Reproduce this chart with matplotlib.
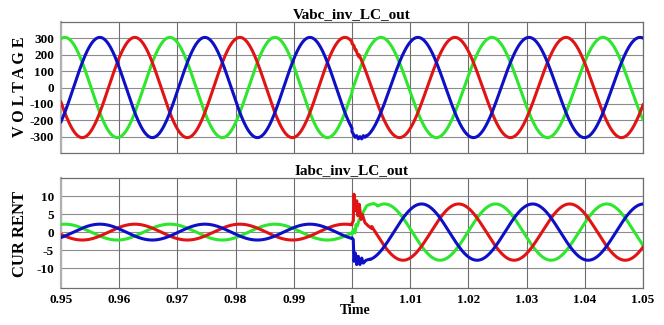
import numpy as np
import matplotlib
matplotlib.use("Agg")
import matplotlib.pyplot as plt

plt.rcParams["font.family"] = ["Liberation Serif", "DejaVu Serif"]
plt.rcParams["font.weight"] = "bold"

# window and step instant
t_start, t_end, t_step = 0.95, 1.05, 1.0

# sine parameters per segment: frequency [Hz], amplitude, time of phase-a (green) peak
f_pre, f_post = 55.4, 52.4
v_amp = 306.0
v_peak_pre, v_peak_post = 0.95065, 1.04313
i_amp_pre, i_amp_post = 2.2, 7.8
i_peak_pre, i_peak_post = 0.95065, 1.04376

# sampled transient right after the step (time [s], value)
v_red_tr_t = [1.00000, 1.00017, 1.00034, 1.00046, 1.00057, 1.00069, 1.00086, 1.00103, 1.00120]
v_red_tr = [268, 262, 255, 238, 228, 230, 210, 198, 186]
v_blue_tr_t = [1.00000, 1.00022, 1.00052, 1.00081, 1.00108, 1.00137, 1.00167, 1.00194, 1.00223, 1.00253]
v_blue_tr = [-270, -283, -304, -294, -314, -300, -314, -294, -304, -292]

i_red_tr_t = [1.00000, 1.00022, 1.00034, 1.00057, 1.00081, 1.00103, 1.00125, 1.00155,
              1.00177, 1.00223, 1.00280, 1.00338]
i_red_tr = [2.4, 3.1, 10.5, 5.9, 8.7, 4.5, 7.7, 3.5, 4.9, 2.6, 1.7, 1.0]
i_blue_tr_t = [1.00000, 1.00022, 1.00034, 1.00057, 1.00081, 1.00108, 1.00137, 1.00167,
               1.00194, 1.00241, 1.00309]
i_blue_tr = [-1.6, -2.1, -8.1, -5.8, -9.0, -6.7, -9.0, -7.2, -8.6, -7.8, -7.5]
i_green_tr_t = [1.00000, 1.00022, 1.00052, 1.00069, 1.00091, 1.00125, 1.00167, 1.00194,
                1.00253, 1.00309, 1.00378, 1.00440]
i_green_tr = [-0.6, 0.7, -0.2, 2.1, 1.7, 3.5, 4.5, 5.6, 7.3, 7.7, 7.9, 7.4]

v_ticks = [-300, -200, -100, 0, 100, 200, 300]
i_ticks = [-10, -5, 0, 5, 10]
x_ticks = [0.95, 0.96, 0.97, 0.98, 0.99, 1.0, 1.01, 1.02, 1.03, 1.04, 1.05]
x_ticklabels = ["0.95", "0.96", "0.97", "0.98", "0.99", "1", "1.01", "1.02", "1.03", "1.04", "1.05"]

colors = {"a": "#2ee62e", "b": "#0d10c4", "c": "#e01414"}
shift = {"a": 0, "b": 1, "c": 2}

t = np.linspace(t_start, t_end, 6000)


def phase(t, f, tpk, k, amp):
    return amp * np.cos(2 * np.pi * f * (t - tpk) - 2 * np.pi / 3 * k)


def build(k, amps, peaks, tr_t=None, tr_v=None):
    pre = t < t_step
    tt_pre = t[pre]
    vv_pre = phase(tt_pre, f_pre, peaks[0], k, amps[0])
    t_cut = tr_t[-1] if tr_t else t_step
    post = t > t_cut
    tt_post = t[post]
    vv_post = phase(tt_post, f_post, peaks[1], k, amps[1])
    parts_t = [tt_pre]
    parts_v = [vv_pre]
    if tr_t:
        parts_t.append(np.array(tr_t))
        parts_v.append(np.array(tr_v, dtype=float))
    parts_t.append(tt_post)
    parts_v.append(vv_post)
    return np.concatenate(parts_t), np.concatenate(parts_v)


fig = plt.figure(figsize=(6.64, 3.25), dpi=100)
ax_v = fig.add_axes([61 / 664, 1 - 153 / 325, 582 / 664, 131 / 325])
ax_i = fig.add_axes([61 / 664, 1 - 288 / 325, 582 / 664, 110 / 325])

v_tr = {"a": (None, None), "b": (v_blue_tr_t, v_blue_tr), "c": (v_red_tr_t, v_red_tr)}
i_tr = {"a": (i_green_tr_t, i_green_tr), "b": (i_blue_tr_t, i_blue_tr), "c": (i_red_tr_t, i_red_tr)}

for ph in ["a", "c", "b"]:
    tt, vv = build(shift[ph], (v_amp, v_amp), (v_peak_pre, v_peak_post), *v_tr[ph])
    ax_v.plot(tt, vv, color=colors[ph], lw=2.2, solid_joinstyle="round", zorder=3)
    tt, ii = build(shift[ph], (i_amp_pre, i_amp_post), (i_peak_pre, i_peak_post), *i_tr[ph])
    ax_i.plot(tt, ii, color=colors[ph], lw=2.2, solid_joinstyle="round", zorder=3)

for ax, ticks, lim, title in [
    (ax_v, v_ticks, (-400, 400), "Vabc_inv_LC_out"),
    (ax_i, i_ticks, (-15.5, 15), "Iabc_inv_LC_out"),
]:
    ax.set_xlim(t_start, t_end)
    ax.set_ylim(*lim)
    ax.set_yticks(ticks)
    ax.set_yticklabels([str(v) for v in ticks], fontsize=9.5, fontweight="bold")
    ax.set_xticks(x_ticks)
    ax.tick_params(length=0, pad=5)
    for v in ticks:
        ax.axhline(v, color="#8c8c8c", lw=0.8, zorder=1)
    for x in x_ticks:
        ax.axvline(x, color="#6e6e6e", lw=0.8, zorder=1)
    for s in ax.spines.values():
        s.set_color("#6e6e6e")
        s.set_linewidth(0.9)
    ax.spines["left"].set_color("#b0b0b0")
    ax.spines["left"].set_linewidth(1.6)
    ax.set_title(title, fontsize=11, fontweight="bold", pad=3)

ax_v.set_xticklabels([])
ax_i.set_xticklabels(x_ticklabels, fontsize=9.5, fontweight="bold")
ax_i.tick_params(axis="x", pad=4)

fig.text(20 / 664, 1 - 87 / 325, "V O L T A G E", rotation=90, ha="center", va="center",
         fontsize=11.5, fontweight="bold")
fig.text(20 / 664, 1 - 234 / 325, "CUR RENT", rotation=90, ha="center", va="center",
         fontsize=12, fontweight="bold")
fig.text(355 / 664, 1 - 311 / 325, "Time", ha="center", va="center",
         fontsize=10, fontweight="bold")

fig.savefig("out.png", dpi=100)
